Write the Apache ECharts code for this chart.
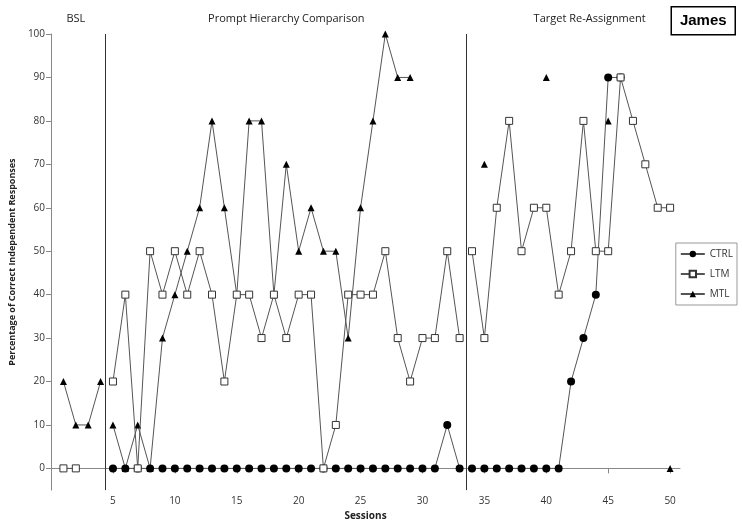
<!DOCTYPE html>
<html><head><meta charset="utf-8">
<script src="https://cdn.jsdelivr.net/npm/echarts@6/dist/echarts.min.js"></script>
<style>html,body{margin:0;padding:0;background:#fff}#c{width:742px;height:526px}</style>
</head><body><div id="c"></div>
<script>
const sessions = Array.from({length:50},(_,i)=>i+1);
const _ = null;
const ctrl = [_,_,_,_,0,0,0,0,0,0, 0,0,0,0,0,0,0,0,0,0, 0,0,0,0,0,0,0,0,0,0, 0,10,0,0,0,0,0,0,0,0, 0,20,30,40,90,90,_,_,_,_];
const ltm  = [0,0,_,_,20,40,0,50,40,50, 40,50,40,20,40,40,30,40,30,40, 40,0,10,40,40,40,50,30,20,30, 30,50,30,50,30,60,80,50,60,60, 40,50,80,50,50,90,80,70,60,60];
const mtl  = [20,10,10,20,10,0,10,0,30,40, 50,60,80,60,40,80,80,40,70,50, 60,50,50,30,60,80,100,90,90,_, _,_,_,_,70,_,_,_,_,90, _,_,_,_,80,_,_,_,_,0];
const xTicks = [5,10,15,20,25,30,35,40,45,50];
const yTicks = [0,10,20,30,40,50,60,70,80,90,100];
const phaseLines = [4.4, 33.5];
const phases = [{name:'BSL',x:2.0},{name:'Prompt Hierarchy Comparison',x:19},{name:'Target Re-Assignment',x:43.5}];

// build points, inserting a break at each phase line so lines don't cross phases
const pairs = a => {
  const out = [];
  sessions.forEach((s,i)=>{
    phaseLines.forEach(p=>{ if (s>p && s-1<p) out.push([p,'-']); });
    out.push([s, a[i]===null ? '-' : a[i]]);
  });
  return out;
};
const ls = {color:'#555',width:1};
const chart = echarts.init(document.getElementById('c'));
chart.setOption({
  animation:false,
  textStyle:{fontFamily:'Open Sans, Liberation Sans, sans-serif'},
  grid:{left:42,right:62,top:34,bottom:35},
  xAxis:{type:'value',min:0,max:50.8,
    axisLine:{lineStyle:{color:'#888'}},
    axisTick:{customValues:xTicks,lineStyle:{color:'#888'}},
    axisLabel:{customValues:xTicks,fontSize:10,color:'#333',margin:6},
    splitLine:{show:false},
    name:'Sessions',nameLocation:'middle',nameGap:20,nameTextStyle:{fontWeight:'bold',fontSize:10,color:'#222'}},
  yAxis:{type:'value',min:-5,max:100,
    axisLine:{show:true,lineStyle:{color:'#888'}},
    axisTick:{show:true,customValues:yTicks,lineStyle:{color:'#888'}},
    axisLabel:{customValues:yTicks,fontSize:10,color:'#333',margin:6},
    splitLine:{show:false},
    name:'Percentage of Correct Independent Responses',nameLocation:'middle',nameGap:27,
    nameTextStyle:{fontWeight:'bold',fontSize:9,color:'#222'}},
  legend:{orient:'vertical',right:5,top:243,itemWidth:24,itemHeight:8,itemGap:10,
    textStyle:{fontSize:10,color:'#333'},backgroundColor:'#fff',borderColor:'#999',borderWidth:1,padding:[6,4],
    data:['CTRL','LTM','MTL']},
  series:[
    {name:'CTRL',type:'line',data:pairs(ctrl),symbol:'circle',symbolSize:8,z:3,
      itemStyle:{color:'#000'},lineStyle:ls,connectNulls:false,
      markLine:{silent:true,symbol:'none',label:{show:false},lineStyle:{color:'#333',width:1,type:'solid'},
        data:phaseLines.map(v=>[{coord:[v,-5]},{coord:[v,100]}])}},
    {name:'LTM',type:'line',data:pairs(ltm),symbol:'rect',symbolSize:7,z:4,
      itemStyle:{color:'#fff',borderColor:'#333',borderWidth:1},lineStyle:ls,connectNulls:false},
    {name:'MTL',type:'line',data:pairs(mtl),symbol:'triangle',symbolSize:7,z:2,
      itemStyle:{color:'#000'},lineStyle:ls,connectNulls:false}
  ]
});
const g = phases.map(p=>{
  const px = chart.convertToPixel({gridIndex:0},[p.x,0])[0];
  return {type:'text',x:px,y:13,style:{text:p.name,fontSize:11,fill:'#222',textAlign:'center',fontFamily:'Open Sans, sans-serif'}};
});
chart.setOption({graphic:[...g,
  {type:'group',right:6,top:6,children:[
    {type:'rect',shape:{x:0,y:0,width:64,height:28},style:{fill:'#fff',stroke:'#000',lineWidth:1.5}},
    {type:'text',style:{x:32,y:14,text:'James',fontSize:15,fontWeight:'bold',fill:'#000',textAlign:'center',textVerticalAlign:'middle'}}
  ]}]});
</script></body></html>
